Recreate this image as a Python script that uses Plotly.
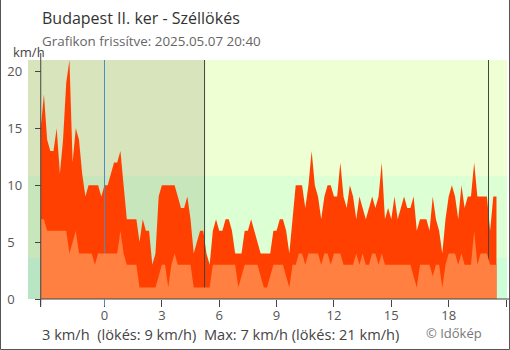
import pandas as pd
import plotly.graph_objects as go

# Wind readings every 10 minutes, km/h (gusts and average speed)
gust = [
    15, 18, 14, 13, 13, 15, 11, 14, 19, 21, 12, 15, 14, 11, 9, 10, 10, 10, 10, 9,
    10, 10, 11, 12, 12, 13, 10, 7, 7, 7, 7, 5, 7, 6, 6, 3, 4, 9, 10, 10,
    10, 10, 10, 9, 8, 8, 9, 7, 4, 5, 6, 6, 4, 3, 6, 7, 6, 6, 7, 7,
    6, 4, 4, 4, 6, 6, 7, 6, 5, 4, 4, 4, 4, 6, 6, 7, 7, 6, 4, 7,
    10, 10, 10, 8, 10, 13, 10, 9, 7, 9, 10, 10, 9, 9, 12, 9, 8, 10, 9, 7,
    9, 8, 7, 8, 9, 8, 9, 12, 7, 8, 7, 9, 7, 8, 9, 8, 8, 9, 6, 7,
    7, 7, 6, 9, 7, 6, 4, 7, 9, 10, 9, 7, 10, 8, 9, 9, 12, 9, 9, 9,
    9, 6, 9, 9,
]
avg = [
    7, 7, 6, 6, 6, 6, 6, 6, 6, 4, 5, 6, 4, 4, 4, 4, 4, 3, 4, 4,
    4, 4, 4, 4, 4, 6, 4, 3, 3, 3, 3, 1, 1, 1, 1, 1, 1, 2, 3, 3,
    1, 3, 4, 3, 3, 3, 3, 3, 1, 1, 1, 1, 1, 1, 3, 3, 3, 3, 3, 3,
    3, 3, 1, 2, 3, 3, 3, 3, 3, 2, 1, 1, 2, 3, 3, 3, 3, 2, 1, 3,
    3, 4, 4, 3, 4, 4, 4, 4, 3, 4, 4, 3, 4, 4, 4, 3, 3, 3, 3, 4,
    3, 4, 3, 3, 4, 4, 3, 4, 3, 3, 3, 3, 3, 3, 3, 3, 3, 2, 1, 3,
    3, 3, 3, 2, 3, 3, 1, 3, 4, 4, 4, 3, 4, 3, 3, 3, 6, 3, 4, 4,
    4, 3, 3, 3,
]
first_reading = "2025-05-06 20:40"
times = pd.date_range(first_reading, periods=len(gust), freq="10min")

midnight = pd.Timestamp("2025-05-07 00:00")
sunrise = pd.Timestamp("2025-05-07 05:14")
sunset = pd.Timestamp("2025-05-07 20:05")
x_min = pd.Timestamp("2025-05-06 20:00")
x_max = pd.Timestamp("2025-05-07 21:03")

tick_hours = [0, 3, 6, 9, 12, 15, 18, 21]
y_ticks = [0, 5, 10, 15, 20]
y_max = 21
band_edges = [0, 3.6, 10.8, y_max]
day_colors = ["#ccffd8", "#dcffd4", "#eeffd4"]
night_colors = ["#b8e6c4", "#c8e6bc", "#d8e4bc"]

title = "Budapest II. ker - Széllökés"
subtitle = "Grafikon frissítve: 2025.05.07 20:40"
summary = "3 km/h  (lökés: 9 km/h)  Max: 7 km/h (lökés: 21 km/h)"
credit = "© Időkép"

GUST_COLOR = "#ff4000"
AVG_COLOR = "#ff8040"
AXIS_COLOR = "#444444"
MIDNIGHT_COLOR = "#4a8cc4"
FONT = "Open Sans"

W, H = 510, 350
ML, MR, MT, MB = 28, 3, 60, 51
PW, PH = W - ML - MR, H - MT - MB


def xfrac(t):
    return (t - x_min) / (x_max - x_min)


def px_x(px):
    return (px - ML) / PW


def px_y(py):
    return (H - MB - py) / PH


fig = go.Figure()

fig.add_trace(go.Scatter(
    x=times, y=gust, mode="lines", line=dict(width=0, color=GUST_COLOR),
    fill="tozeroy", fillcolor=GUST_COLOR, hoverinfo="skip", showlegend=False,
))
for t, c in [(midnight, MIDNIGHT_COLOR), (sunrise, AXIS_COLOR), (sunset, AXIS_COLOR)]:
    fig.add_trace(go.Scatter(
        x=[t, t], y=[0, y_max], mode="lines", line=dict(color=c, width=1),
        hoverinfo="skip", showlegend=False,
    ))
fig.add_trace(go.Scatter(
    x=times, y=avg, mode="lines", line=dict(width=0, color=AVG_COLOR),
    fill="tozeroy", fillcolor=AVG_COLOR, hoverinfo="skip", showlegend=False,
))

shapes = []
for k in range(3):
    shapes.append(dict(type="rect", layer="below", xref="paper", yref="y",
                       x0=0, x1=1, y0=band_edges[k], y1=band_edges[k + 1],
                       fillcolor=day_colors[k], line=dict(width=0)))
    shapes.append(dict(type="rect", layer="below", xref="x", yref="y",
                       x0=x_min, x1=sunrise, y0=band_edges[k], y1=band_edges[k + 1],
                       fillcolor=night_colors[k], line=dict(width=0)))

x_start = xfrac(times[0])
tick_out = 7 / PH
# axis lines starting at the first reading
shapes.append(dict(type="line", xref="paper", yref="paper", x0=x_start, x1=x_start,
                   y0=-tick_out, y1=1 + tick_out, line=dict(color=AXIS_COLOR, width=1)))
shapes.append(dict(type="line", xref="paper", yref="paper", x0=x_start, x1=px_x(W),
                   y0=0, y1=0, line=dict(color=AXIS_COLOR, width=1)))
# midnight tick in blue
shapes.append(dict(type="line", xref="paper", yref="paper", x0=xfrac(midnight),
                   x1=xfrac(midnight), y0=-tick_out, y1=0,
                   line=dict(color=MIDNIGHT_COLOR, width=1)))
# frame around the chart (left, bottom, right)
shapes.append(dict(type="path", xref="paper", yref="paper",
                   path=(f"M {px_x(0.5)} {px_y(0)} L {px_x(0.5)} {px_y(H - 0.5)} "
                         f"L {px_x(W - 0.5)} {px_y(H - 0.5)} L {px_x(W - 0.5)} {px_y(0)}"),
                   line=dict(color="#555555", width=1)))

tickvals = [times[0]] + [midnight + pd.Timedelta(hours=h) for h in tick_hours]
ticktext = [""] + [str(h) for h in tick_hours]

fig.update_layout(
    width=W, height=H, margin=dict(l=ML, r=MR, t=MT, b=MB),
    paper_bgcolor="white", plot_bgcolor="rgba(0,0,0,0)",
    font=dict(family=FONT, color="#555555", size=13),
    shapes=shapes,
    xaxis=dict(type="date", range=[x_min, x_max], tickvals=tickvals, ticktext=ticktext,
               ticks="outside", ticklen=7, tickcolor=AXIS_COLOR, showline=False,
               showgrid=False, zeroline=False, ticklabelstandoff=-3,
               tickfont=dict(size=13, color="#555555")),
    yaxis=dict(range=[0, y_max], tickvals=y_ticks,
               ticktext=[f"{v}\u2007" if v < 10 else str(v) for v in y_ticks],
               anchor="free", position=x_start, ticks="outside", ticklen=6,
               tickcolor=AXIS_COLOR, showline=False, showgrid=False, zeroline=False,
               ticklabelstandoff=10, tickfont=dict(size=13, color="#555555")),
    yaxis2=dict(range=[0, y_max], overlaying="y", tickvals=y_ticks, anchor="free",
                position=x_start, side="left", ticks="inside", ticklen=6,
                tickcolor=AXIS_COLOR, showticklabels=False, showline=False,
                showgrid=False, zeroline=False),
    annotations=[
        dict(text=title, xref="paper", yref="paper", x=px_x(40), y=px_y(18),
             xanchor="left", yanchor="middle", showarrow=False,
             font=dict(size=16, color="#333333")),
        dict(text=subtitle, xref="paper", yref="paper", x=px_x(40), y=px_y(41),
             xanchor="left", yanchor="middle", showarrow=False,
             font=dict(size=13.4, color="#666666")),
        dict(text="km/h", xref="paper", yref="paper", x=px_x(11), y=px_y(52),
             xanchor="left", yanchor="middle", showarrow=False,
             font=dict(size=13, color="#444444")),
        dict(text=summary, xref="paper", yref="paper", x=px_x(40), y=px_y(334),
             xanchor="left", yanchor="middle", showarrow=False,
             font=dict(size=14.6, color="#444444")),
        dict(text=credit, xref="paper", yref="paper", x=px_x(424), y=px_y(333),
             xanchor="left", yanchor="middle", showarrow=False,
             font=dict(size=13, color="#777777")),
    ],
)

fig.write_html("out.html")
